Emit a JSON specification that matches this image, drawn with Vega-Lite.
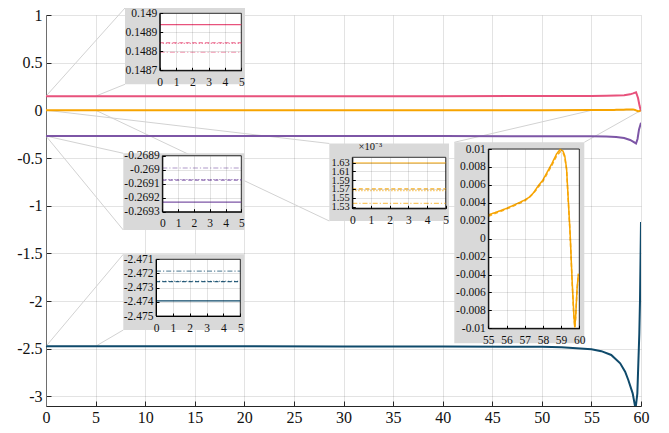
{
  "$schema": "https://vega.github.io/schema/vega-lite/v6.json",
  "width": 595,
  "height": 391,
  "autosize": {"type": "none"},
  "padding": {"left": 46, "top": 15, "right": 28, "bottom": 27},
  "background": "white",
  "config": {
    "font": "Liberation Serif",
    "view": {"stroke": null},
    "axis": {
      "labelFont": "Liberation Serif",
      "labelColor": "#111111",
      "gridColor": "#262626",
      "gridOpacity": 0.13,
      "labelFlush": false,
      "labelOverlap": false,
      "labelBound": false,
      "labelExpr": "replace(datum.label, '−', '-')"
    }
  },
  "datasets": {
    "runs": [
      {"q": "q1", "case": "c1", "x": 0, "y": 0.14894},
      {"q": "q1", "case": "c1", "x": 5, "y": 0.14894},
      {"q": "q1", "case": "c1", "x": 10, "y": 0.14896},
      {"q": "q1", "case": "c1", "x": 20, "y": 0.149},
      {"q": "q1", "case": "c1", "x": 30, "y": 0.1491},
      {"q": "q1", "case": "c1", "x": 40, "y": 0.1493},
      {"q": "q1", "case": "c1", "x": 50, "y": 0.1497},
      {"q": "q1", "case": "c1", "x": 55, "y": 0.1505},
      {"q": "q1", "case": "c1", "x": 56.5, "y": 0.152},
      {"q": "q1", "case": "c1", "x": 57.5, "y": 0.155},
      {"q": "q1", "case": "c1", "x": 58.3, "y": 0.159},
      {"q": "q1", "case": "c1", "x": 58.9, "y": 0.168},
      {"q": "q1", "case": "c1", "x": 59.2, "y": 0.178},
      {"q": "q1", "case": "c1", "x": 59.5, "y": 0.19},
      {"q": "q1", "case": "c1", "x": 59.7, "y": 0.13},
      {"q": "q1", "case": "c1", "x": 59.85, "y": 0.05},
      {"q": "q1", "case": "c1", "x": 60, "y": -0.008},
      {"q": "q1", "case": "c2", "x": 0, "y": 0.148845},
      {"q": "q1", "case": "c2", "x": 5, "y": 0.148845},
      {"q": "q1", "case": "c3", "x": 0, "y": 0.148842},
      {"q": "q1", "case": "c3", "x": 5, "y": 0.148842},
      {"q": "q1", "case": "c4", "x": 0, "y": 0.148795},
      {"q": "q1", "case": "c4", "x": 5, "y": 0.148795},

      {"q": "q2", "case": "c1", "x": 0, "y": 0.001629},
      {"q": "q2", "case": "c1", "x": 5, "y": 0.001629},
      {"q": "q2", "case": "c1", "x": 10, "y": 0.00165},
      {"q": "q2", "case": "c1", "x": 20, "y": 0.00172},
      {"q": "q2", "case": "c1", "x": 30, "y": 0.00182},
      {"q": "q2", "case": "c1", "x": 40, "y": 0.00198},
      {"q": "q2", "case": "c1", "x": 50, "y": 0.00222},
      {"q": "q2", "case": "c1", "x": 55, "y": 0.00264},
      {"q": "q2", "case": "c1", "x": 55.5, "y": 0.003},
      {"q": "q2", "case": "c1", "x": 56, "y": 0.00338},
      {"q": "q2", "case": "c1", "x": 56.5, "y": 0.00383},
      {"q": "q2", "case": "c1", "x": 57, "y": 0.00431},
      {"q": "q2", "case": "c1", "x": 57.3, "y": 0.00468},
      {"q": "q2", "case": "c1", "x": 57.5, "y": 0.00517},
      {"q": "q2", "case": "c1", "x": 57.75, "y": 0.00591},
      {"q": "q2", "case": "c1", "x": 58, "y": 0.00654},
      {"q": "q2", "case": "c1", "x": 58.25, "y": 0.00747},
      {"q": "q2", "case": "c1", "x": 58.5, "y": 0.0084},
      {"q": "q2", "case": "c1", "x": 58.75, "y": 0.00944},
      {"q": "q2", "case": "c1", "x": 58.95, "y": 0.00996},
      {"q": "q2", "case": "c1", "x": 59.1, "y": 0.00978},
      {"q": "q2", "case": "c1", "x": 59.2, "y": 0.00926},
      {"q": "q2", "case": "c1", "x": 59.3, "y": 0.00784},
      {"q": "q2", "case": "c1", "x": 59.4, "y": 0.00413},
      {"q": "q2", "case": "c1", "x": 59.5, "y": 0.00041},
      {"q": "q2", "case": "c1", "x": 59.6, "y": -0.00442},
      {"q": "q2", "case": "c1", "x": 59.7, "y": -0.0085},
      {"q": "q2", "case": "c1", "x": 59.75, "y": -0.0099},
      {"q": "q2", "case": "c1", "x": 59.8, "y": -0.0087},
      {"q": "q2", "case": "c1", "x": 59.88, "y": -0.0055},
      {"q": "q2", "case": "c1", "x": 59.95, "y": -0.0039},
      {"q": "q2", "case": "c2", "x": 0, "y": 0.00157},
      {"q": "q2", "case": "c2", "x": 5, "y": 0.00157},
      {"q": "q2", "case": "c2", "x": 55, "y": 0.0025},
      {"q": "q2", "case": "c2", "x": 56, "y": 0.0033},
      {"q": "q2", "case": "c2", "x": 57, "y": 0.0042},
      {"q": "q2", "case": "c2", "x": 57.5, "y": 0.0051},
      {"q": "q2", "case": "c2", "x": 58, "y": 0.0064},
      {"q": "q2", "case": "c2", "x": 58.5, "y": 0.0082},
      {"q": "q2", "case": "c2", "x": 58.75, "y": 0.0092},
      {"q": "q2", "case": "c2", "x": 58.95, "y": 0.0097},
      {"q": "q2", "case": "c2", "x": 59.1, "y": 0.0096},
      {"q": "q2", "case": "c2", "x": 59.2, "y": 0.0091},
      {"q": "q2", "case": "c2", "x": 59.3, "y": 0.0077},
      {"q": "q2", "case": "c2", "x": 59.4, "y": 0.004},
      {"q": "q2", "case": "c2", "x": 59.5, "y": 0.0003},
      {"q": "q2", "case": "c2", "x": 59.6, "y": -0.0046},
      {"q": "q2", "case": "c2", "x": 59.7, "y": -0.0087},
      {"q": "q2", "case": "c2", "x": 59.76, "y": -0.0099},
      {"q": "q2", "case": "c2", "x": 59.8, "y": -0.0088},
      {"q": "q2", "case": "c2", "x": 59.88, "y": -0.0056},
      {"q": "q2", "case": "c2", "x": 59.95, "y": -0.004},
      {"q": "q2", "case": "c3", "x": 0, "y": 0.001566},
      {"q": "q2", "case": "c3", "x": 5, "y": 0.001566},
      {"q": "q2", "case": "c4", "x": 0, "y": 0.001537},
      {"q": "q2", "case": "c4", "x": 5, "y": 0.001537},

      {"q": "q3", "case": "c1", "x": 0, "y": -0.269231},
      {"q": "q3", "case": "c1", "x": 5, "y": -0.269231},
      {"q": "q3", "case": "c1", "x": 10, "y": -0.2693},
      {"q": "q3", "case": "c1", "x": 20, "y": -0.2694},
      {"q": "q3", "case": "c1", "x": 30, "y": -0.2696},
      {"q": "q3", "case": "c1", "x": 40, "y": -0.27},
      {"q": "q3", "case": "c1", "x": 50, "y": -0.2707},
      {"q": "q3", "case": "c1", "x": 55, "y": -0.2725},
      {"q": "q3", "case": "c1", "x": 56.5, "y": -0.275},
      {"q": "q3", "case": "c1", "x": 57.5, "y": -0.279},
      {"q": "q3", "case": "c1", "x": 58.3, "y": -0.29},
      {"q": "q3", "case": "c1", "x": 58.9, "y": -0.31},
      {"q": "q3", "case": "c1", "x": 59.2, "y": -0.328},
      {"q": "q3", "case": "c1", "x": 59.5, "y": -0.347},
      {"q": "q3", "case": "c1", "x": 59.65, "y": -0.3},
      {"q": "q3", "case": "c1", "x": 59.8, "y": -0.2},
      {"q": "q3", "case": "c1", "x": 60, "y": -0.13},
      {"q": "q3", "case": "c2", "x": 0, "y": -0.269074},
      {"q": "q3", "case": "c2", "x": 5, "y": -0.269074},
      {"q": "q3", "case": "c3", "x": 0, "y": -0.26907},
      {"q": "q3", "case": "c3", "x": 5, "y": -0.26907},
      {"q": "q3", "case": "c4", "x": 0, "y": -0.268988},
      {"q": "q3", "case": "c4", "x": 5, "y": -0.268988},

      {"q": "q4", "case": "c1", "x": 0, "y": -2.47394},
      {"q": "q4", "case": "c1", "x": 5, "y": -2.47394},
      {"q": "q4", "case": "c1", "x": 10, "y": -2.4741},
      {"q": "q4", "case": "c1", "x": 20, "y": -2.4745},
      {"q": "q4", "case": "c1", "x": 30, "y": -2.475},
      {"q": "q4", "case": "c1", "x": 40, "y": -2.4765},
      {"q": "q4", "case": "c1", "x": 50, "y": -2.48},
      {"q": "q4", "case": "c1", "x": 52, "y": -2.484},
      {"q": "q4", "case": "c1", "x": 55, "y": -2.505},
      {"q": "q4", "case": "c1", "x": 56, "y": -2.525},
      {"q": "q4", "case": "c1", "x": 57, "y": -2.565},
      {"q": "q4", "case": "c1", "x": 57.9, "y": -2.652},
      {"q": "q4", "case": "c1", "x": 58.4, "y": -2.74},
      {"q": "q4", "case": "c1", "x": 58.72, "y": -2.827},
      {"q": "q4", "case": "c1", "x": 59.16, "y": -2.967},
      {"q": "q4", "case": "c1", "x": 59.45, "y": -3.13},
      {"q": "q4", "case": "c1", "x": 59.63, "y": -2.97},
      {"q": "q4", "case": "c1", "x": 59.83, "y": -2.34},
      {"q": "q4", "case": "c1", "x": 59.9, "y": -1.99},
      {"q": "q4", "case": "c1", "x": 60, "y": -1.17},
      {"q": "q4", "case": "c2", "x": 0, "y": -2.47258},
      {"q": "q4", "case": "c2", "x": 5, "y": -2.47258},
      {"q": "q4", "case": "c3", "x": 0, "y": -2.47255},
      {"q": "q4", "case": "c3", "x": 5, "y": -2.47255},
      {"q": "q4", "case": "c4", "x": 0, "y": -2.47183},
      {"q": "q4", "case": "c4", "x": 5, "y": -2.47183}
    ]
  },
  "layer": [
    {
      "layer": [
        {
          "data": {"name": "runs"},
          "transform": [{"filter": "datum.case === 'c1'"}],
          "mark": {"type": "line", "strokeWidth": 0, "clip": true},
          "encoding": {
            "x": {"field": "x", "type": "quantitative",
                  "scale": {"domain": [0, 60], "nice": false, "zero": false},
                  "axis": {"title": null, "values": [0,5,10,15,20,25,30,35,40,45,50,55,60], "format": "d", "tickCount": 30,
                           "grid": true, "domainColor": "#262626", "tickColor": "#262626",
                           "labelFont": "Liberation Serif", "labelOverlap": false, "labelFlush": false,
                           "tickSize": -5, "labelPadding": 8, "labelFontSize": 16, "zindex": 0}},
            "y": {"field": "y", "type": "quantitative",
                  "scale": {"domain": [-3.1, 1], "nice": false, "zero": false},
                  "axis": {"title": null, "values": [1,0.5,0,-0.5,-1,-1.5,-2,-2.5,-3], "format": "~g", "tickCount": 30,
                           "grid": true, "domainColor": "#6e6e6e", "tickColor": "#262626",
                           "labelFont": "Liberation Serif", "labelOverlap": false, "labelFlush": false,
                           "tickSize": -5, "labelPadding": 9, "labelFontSize": 16, "zindex": 0}},
            "detail": {"field": "q", "type": "nominal"}
          }
        },
        {"data": {"values": [{}]}, "mark": {"type": "rule", "color": "#d2d2d2", "strokeWidth": 1},
         "encoding": {"x": {"datum": 0}, "y": {"datum": 0.14894}, "x2": {"datum": 7.966}, "y2": {"datum": 1.0734}}},
        {"data": {"values": [{}]}, "mark": {"type": "rule", "color": "#d2d2d2", "strokeWidth": 1},
         "encoding": {"x": {"datum": 5}, "y": {"datum": 0.14894}, "x2": {"datum": 7.966}, "y2": {"datum": 0.2734}}},
        {"data": {"values": [{}]}, "mark": {"type": "rule", "color": "#d2d2d2", "strokeWidth": 1},
         "encoding": {"x": {"datum": 0}, "y": {"datum": -0.269231}, "x2": {"datum": 7.795}, "y2": {"datum": -0.4501}}},
        {"data": {"values": [{}]}, "mark": {"type": "rule", "color": "#d2d2d2", "strokeWidth": 1},
         "encoding": {"x": {"datum": 0}, "y": {"datum": -0.269231}, "x2": {"datum": 7.795}, "y2": {"datum": -1.2544}}},
        {"data": {"values": [{}]}, "mark": {"type": "rule", "color": "#d2d2d2", "strokeWidth": 1},
         "encoding": {"x": {"datum": 0}, "y": {"datum": 0.001629}, "x2": {"datum": 28.568}, "y2": {"datum": -0.3474}}},
        {"data": {"values": [{}]}, "mark": {"type": "rule", "color": "#d2d2d2", "strokeWidth": 1},
         "encoding": {"x": {"datum": 5}, "y": {"datum": 0.001629}, "x2": {"datum": 28.568}, "y2": {"datum": -1.16}}},
        {"data": {"values": [{}]}, "mark": {"type": "rule", "color": "#d2d2d2", "strokeWidth": 1},
         "encoding": {"x": {"datum": 0}, "y": {"datum": -2.47394}, "x2": {"datum": 7.795}, "y2": {"datum": -1.5092}}},
        {"data": {"values": [{}]}, "mark": {"type": "rule", "color": "#d2d2d2", "strokeWidth": 1},
         "encoding": {"x": {"datum": 5}, "y": {"datum": -2.47394}, "x2": {"datum": 7.795}, "y2": {"datum": -2.3029}}},
        {"data": {"values": [{}]}, "mark": {"type": "rule", "color": "#d2d2d2", "strokeWidth": 1},
         "encoding": {"x": {"datum": 55}, "y": {"datum": 0}, "x2": {"datum": 41.173}, "y2": {"datum": -0.3348}}},
        {"data": {"values": [{}]}, "mark": {"type": "rule", "color": "#d2d2d2", "strokeWidth": 1},
         "encoding": {"x": {"datum": 60}, "y": {"datum": 0}, "x2": {"datum": 54.282}, "y2": {"datum": -0.3348}}},
        {
          "data": {"name": "runs"},
          "transform": [{"filter": "datum.case === 'c1'"}],
          "mark": {"type": "line", "strokeWidth": 2, "clip": true},
          "encoding": {
            "x": {"field": "x", "type": "quantitative"},
            "y": {"field": "y", "type": "quantitative"},
            "color": {"field": "q", "type": "nominal",
                      "scale": {"domain": ["q1","q2","q3","q4"], "range": ["#e8527c","#f7a400","#7d56a6","#0f4a6b"]},
                      "legend": null},
            "order": {"field": "x", "type": "quantitative"}
          }
        },
        {"data": {"values": [{}]}, "mark": {"type": "rect", "color": "#d9d9d9"},
         "encoding": {"x": {"datum": 7.966}, "x2": {"datum": 20.067}, "y": {"datum": 1.0734}, "y2": {"datum": 0.2734}}},
        {"data": {"values": [{}]}, "mark": {"type": "rect", "color": "#d9d9d9"},
         "encoding": {"x": {"datum": 7.795}, "x2": {"datum": 19.997}, "y": {"datum": -0.4501}, "y2": {"datum": -1.2544}}},
        {"data": {"values": [{}]}, "mark": {"type": "rect", "color": "#d9d9d9"},
         "encoding": {"x": {"datum": 7.795}, "x2": {"datum": 19.997}, "y": {"datum": -1.5092}, "y2": {"datum": -2.3029}}},
        {"data": {"values": [{}]}, "mark": {"type": "rect", "color": "#d9d9d9"},
         "encoding": {"x": {"datum": 28.568}, "x2": {"datum": 40.639}, "y": {"datum": -0.3474}, "y2": {"datum": -1.16}}},
        {"data": {"values": [{}]}, "mark": {"type": "rect", "color": "#d9d9d9"},
         "encoding": {"x": {"datum": 41.173}, "x2": {"datum": 54.282}, "y": {"datum": -0.3348}, "y2": {"datum": -2.4424}}}
      ]
    },
    {
      "layer": [
        {"data": {"values": [{}]}, "mark": {"type": "rect", "fill": "white", "stroke": "#000000", "strokeWidth": 0.8},
         "encoding": {
           "x": {"datum": 0, "type": "quantitative", "scale": {"domain": [0, 5], "range": [113.7, 195.3], "nice": false, "zero": false},
                 "axis": {"title": null, "orient": "top", "offset": -55.3, "values": [0,1,2,3,4,5], "format": "d", "grid": true, "tickCount": 30,
                          "labelFont": "Liberation Serif", "labelOverlap": false, "labelFlush": false,
                          "domainColor": "#000", "tickColor": "#000", "tickSize": 3, "labelPadding": -9, "labelBaseline": "top",
                          "labelFontSize": 11.5, "zindex": 1}},
           "x2": {"datum": 5},
           "y": {"datum": 0.1487, "type": "quantitative", "scale": {"domain": [0.1487, 0.149], "range": [55.3, -1.7], "nice": false, "zero": false},
                 "axis": {"title": null, "orient": "left", "offset": -113.7, "values": [0.1487,0.1488,0.1489,0.149], "format": ".4~f", "grid": true, "tickCount": 30,
                          "labelFont": "Liberation Serif", "labelOverlap": false, "labelFlush": false,
                          "domainColor": "#000", "tickColor": "#000", "tickSize": -3, "labelPadding": 6, "labelFontSize": 11.5, "zindex": 1}},
           "y2": {"datum": 0.149}}},
        {"data": {"name": "runs"}, "transform": [{"filter": "datum.q === 'q1' && datum.x <= 5"}],
         "mark": {"type": "line", "color": "#e8527c", "strokeWidth": 1.2},
         "encoding": {
           "x": {"field": "x", "type": "quantitative"},
           "y": {"field": "y", "type": "quantitative"},
           "strokeDash": {"field": "case", "type": "nominal", "scale": {"domain": ["c1","c2","c3","c4"], "range": [[1,0],[4,2.5],[1.2,1.8],[5,2,1.2,2]]}, "legend": null},
           "opacity": {"field": "case", "type": "ordinal", "scale": {"domain": ["c1","c2","c3","c4"], "range": [1,0.6,0.6,0.6]}, "legend": null}}}
      ]
    },
    {
      "layer": [
        {"data": {"values": [{}]}, "mark": {"type": "rect", "fill": "white", "stroke": "#000000", "strokeWidth": 0.8},
         "encoding": {
           "x": {"datum": 0, "type": "quantitative", "scale": {"domain": [0, 5], "range": [116.3, 195.3], "nice": false, "zero": false},
                 "axis": {"title": null, "orient": "top", "offset": -196.7, "values": [0,1,2,3,4,5], "format": "d", "grid": true, "tickCount": 30,
                          "labelFont": "Liberation Serif", "labelOverlap": false, "labelFlush": false,
                          "domainColor": "#000", "tickColor": "#000", "tickSize": 3, "labelPadding": -9, "labelBaseline": "top",
                          "labelFontSize": 11.5, "zindex": 1}},
           "x2": {"datum": 5},
           "y": {"datum": -0.2693, "type": "quantitative", "scale": {"domain": [-0.2693, -0.2689], "range": [196.7, 140.7], "nice": false, "zero": false},
                 "axis": {"title": null, "orient": "left", "offset": -116.3, "values": [-0.2693,-0.2692,-0.2691,-0.269,-0.2689], "format": ".4~f", "grid": true, "tickCount": 30,
                          "labelFont": "Liberation Serif", "labelOverlap": false, "labelFlush": false,
                          "domainColor": "#000", "tickColor": "#000", "tickSize": -3, "labelPadding": 6, "labelFontSize": 11.5, "zindex": 1}},
           "y2": {"datum": -0.2689}}},
        {"data": {"name": "runs"}, "transform": [{"filter": "datum.q === 'q3' && datum.x <= 5"}],
         "mark": {"type": "line", "color": "#7d56a6", "strokeWidth": 1.2},
         "encoding": {
           "x": {"field": "x", "type": "quantitative"},
           "y": {"field": "y", "type": "quantitative"},
           "strokeDash": {"field": "case", "type": "nominal", "scale": {"domain": ["c1","c2","c3","c4"], "range": [[1,0],[4,2.5],[1.2,1.8],[5,2,1.2,2]]}, "legend": null},
           "opacity": {"field": "case", "type": "ordinal", "scale": {"domain": ["c1","c2","c3","c4"], "range": [1,0.6,0.6,0.6]}, "legend": null}}}
      ]
    },
    {
      "layer": [
        {"data": {"values": [{}]}, "mark": {"type": "rect", "fill": "white", "stroke": "#000000", "strokeWidth": 0.8},
         "encoding": {
           "x": {"datum": 0, "type": "quantitative", "scale": {"domain": [0, 5], "range": [110, 194.3], "nice": false, "zero": false},
                 "axis": {"title": null, "orient": "top", "offset": -301, "values": [0,1,2,3,4,5], "format": "d", "grid": true, "tickCount": 30,
                          "labelFont": "Liberation Serif", "labelOverlap": false, "labelFlush": false,
                          "domainColor": "#000", "tickColor": "#000", "tickSize": 3, "labelPadding": -9, "labelBaseline": "top",
                          "labelFontSize": 11.5, "zindex": 1}},
           "x2": {"datum": 5},
           "y": {"datum": -2.475, "type": "quantitative", "scale": {"domain": [-2.475, -2.471], "range": [301, 244.3], "nice": false, "zero": false},
                 "axis": {"title": null, "orient": "left", "offset": -110, "values": [-2.475,-2.474,-2.473,-2.472,-2.471], "format": ".3f", "grid": true, "tickCount": 30,
                          "labelFont": "Liberation Serif", "labelOverlap": false, "labelFlush": false,
                          "domainColor": "#000", "tickColor": "#000", "tickSize": -3, "labelPadding": 6, "labelFontSize": 11.5, "zindex": 1}},
           "y2": {"datum": -2.471}}},
        {"data": {"name": "runs"}, "transform": [{"filter": "datum.q === 'q4' && datum.x <= 5"}],
         "mark": {"type": "line", "color": "#0f4a6b", "strokeWidth": 1.2},
         "encoding": {
           "x": {"field": "x", "type": "quantitative"},
           "y": {"field": "y", "type": "quantitative"},
           "strokeDash": {"field": "case", "type": "nominal", "scale": {"domain": ["c1","c2","c3","c4"], "range": [[1,0],[4,2.5],[1.2,1.8],[5,2,1.2,2]]}, "legend": null},
           "opacity": {"field": "case", "type": "ordinal", "scale": {"domain": ["c1","c2","c3","c4"], "range": [1,0.6,0.6,0.6]}, "legend": null}}}
      ]
    },
    {
      "layer": [
        {"data": {"values": [{}]}, "mark": {"type": "rect", "fill": "white", "stroke": "#000000", "strokeWidth": 0.8},
         "encoding": {
           "x": {"datum": 0, "type": "quantitative", "scale": {"domain": [0, 5], "range": [306.3, 399.7], "nice": false, "zero": false},
                 "axis": {"title": null, "orient": "top", "offset": -193.3, "values": [0,1,2,3,4,5], "format": "d", "grid": true, "tickCount": 30,
                          "labelFont": "Liberation Serif", "labelOverlap": false, "labelFlush": false,
                          "domainColor": "#000", "tickColor": "#000", "tickSize": 3, "labelPadding": -9, "labelBaseline": "top",
                          "labelFontSize": 11.5, "zindex": 1}},
           "x2": {"datum": 5},
           "y": {"datum": 0.001526, "type": "quantitative", "scale": {"domain": [0.001526, 0.001642], "range": [193.3, 142.3], "nice": false, "zero": false},
                 "axis": {"title": "×10⁻³", "titleAngle": 0, "titleX": 5.7, "titleY": 131.5, "titleAlign": "left", "titleBaseline": "middle",
                          "titleFont": "Liberation Serif", "titleFontSize": 10.5, "titleFontWeight": "normal", "titleColor": "#111111",
                          "orient": "left", "offset": -306.3, "values": [0.00153,0.00155,0.00157,0.00159,0.00161,0.00163], "tickCount": 30,
                          "labelExpr": "format(datum.value * 1000, '.2f')", "grid": true,
                          "labelFont": "Liberation Serif", "labelOverlap": false, "labelFlush": false,
                          "domainColor": "#000", "tickColor": "#000", "tickSize": -3, "labelPadding": 6, "labelFontSize": 10.5, "zindex": 1}},
           "y2": {"datum": 0.001642}}},
        {"data": {"name": "runs"}, "transform": [{"filter": "datum.q === 'q2' && datum.x <= 5"}],
         "mark": {"type": "line", "color": "#f7a400", "strokeWidth": 1.2},
         "encoding": {
           "x": {"field": "x", "type": "quantitative"},
           "y": {"field": "y", "type": "quantitative"},
           "strokeDash": {"field": "case", "type": "nominal", "scale": {"domain": ["c1","c2","c3","c4"], "range": [[1,0],[4,2.5],[1.2,1.8],[5,2,1.2,2]]}, "legend": null},
           "opacity": {"field": "case", "type": "ordinal", "scale": {"domain": ["c1","c2","c3","c4"], "range": [1,0.6,0.6,0.6]}, "legend": null}}}
      ]
    },
    {
      "layer": [
        {"data": {"values": [{}]}, "mark": {"type": "rect", "fill": "white", "stroke": "#000000", "strokeWidth": 0.8},
         "encoding": {
           "x": {"datum": 55, "type": "quantitative", "scale": {"domain": [55, 60], "range": [442.3, 533.3], "nice": false, "zero": false},
                 "axis": {"title": null, "orient": "top", "offset": -313.3, "values": [55,56,57,58,59,60], "format": "d", "grid": true, "tickCount": 30,
                          "labelFont": "Liberation Serif", "labelOverlap": false, "labelFlush": false,
                          "domainColor": "#000", "tickColor": "#000", "tickSize": 3, "labelPadding": -9, "labelBaseline": "top",
                          "labelFontSize": 11.5, "zindex": 1}},
           "x2": {"datum": 60},
           "y": {"datum": -0.01, "type": "quantitative", "scale": {"domain": [-0.01, 0.01], "range": [313.3, 134], "nice": false, "zero": false},
                 "axis": {"title": null, "orient": "left", "offset": -442.3, "values": [-0.01,-0.008,-0.006,-0.004,-0.002,0,0.002,0.004,0.006,0.008,0.01], "format": "~g", "grid": true, "tickCount": 30,
                          "labelFont": "Liberation Serif", "labelOverlap": false, "labelFlush": false,
                          "domainColor": "#000", "tickColor": "#000", "tickSize": -3, "labelPadding": 6, "labelFontSize": 11.5, "zindex": 1}},
           "y2": {"datum": 0.01}}},
        {"data": {"name": "runs"}, "transform": [{"filter": "datum.q === 'q2' && datum.x >= 55"}],
         "mark": {"type": "line", "color": "#f7a400", "strokeWidth": 1.5},
         "encoding": {
           "x": {"field": "x", "type": "quantitative"},
           "y": {"field": "y", "type": "quantitative"},
           "strokeDash": {"field": "case", "type": "nominal", "scale": {"domain": ["c1","c2","c3","c4"], "range": [[1,0],[4,2.5],[1.2,1.8],[5,2,1.2,2]]}, "legend": null},
           "opacity": {"field": "case", "type": "ordinal", "scale": {"domain": ["c1","c2","c3","c4"], "range": [1,0.6,0.6,0.6]}, "legend": null}}}
      ]
    }
  ],
  "resolve": {"scale": {"x": "independent", "y": "independent"}, "axis": {"x": "independent", "y": "independent"}}
}
